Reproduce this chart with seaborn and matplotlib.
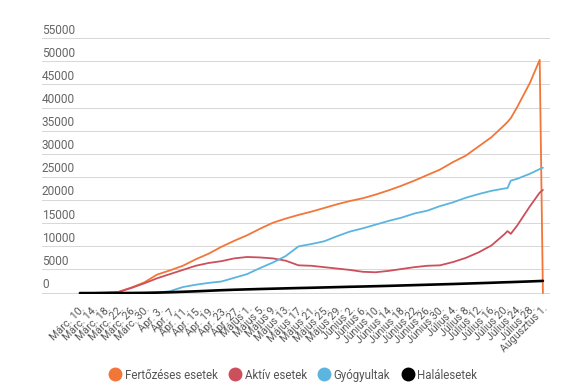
import numpy as np
import pandas as pd
import matplotlib
matplotlib.use("Agg")
import matplotlib.pyplot as plt
from matplotlib.lines import Line2D
import matplotlib.transforms as mtransforms
import seaborn as sns

# ---- data ----
dates = ["2020-03-10", "2020-03-14", "2020-03-18", "2020-03-22", "2020-03-26", "2020-03-30",
         "2020-04-03", "2020-04-07", "2020-04-11", "2020-04-15", "2020-04-19", "2020-04-23",
         "2020-04-27", "2020-05-01", "2020-05-05", "2020-05-09", "2020-05-13", "2020-05-17",
         "2020-05-21", "2020-05-25", "2020-05-29", "2020-06-02", "2020-06-06", "2020-06-10",
         "2020-06-14", "2020-06-18", "2020-06-22", "2020-06-26", "2020-06-30", "2020-07-04",
         "2020-07-08", "2020-07-12", "2020-07-16", "2020-07-20", "2020-07-21", "2020-07-22",
         "2020-07-24", "2020-07-28", "2020-07-31", "2020-08-01"]

fertozeses = [0, 30, 100, 250, 1200, 2300, 4000, 4900, 5900, 7300, 8500, 10000,
              11300, 12500, 13900, 15200, 16100, 16900, 17600, 18400, 19200, 19900,
              20500, 21300, 22200, 23200, 24300, 25500, 26700, 28300, 29700, 31700,
              33700, 36300, 37000, 37800, 40200, 45500, 50400, 0]
aktiv = [0, 30, 100, 250, 1100, 2100, 3200, 4100, 5000, 5900, 6500, 6900,
         7500, 7800, 7700, 7500, 7000, 6000, 5900, 5600, 5300, 5000,
         4600, 4500, 4800, 5200, 5600, 5900, 6000, 6700, 7600, 8800,
         10300, 12700, 13400, 12800, 14600, 18800, 21700, 22300]
gyogyultak = [0, 0, 0, 0, 10, 30, 100, 400, 1300, 1800, 2200, 2500,
              3300, 4100, 5400, 6600, 8000, 10100, 10600, 11200, 12300, 13300,
              14000, 14800, 15600, 16300, 17200, 17800, 18800, 19600, 20600, 21400,
              22100, 22600, 22700, 24300, 24700, 25800, 26800, 27100]
halalesetek = [0, 0, 5, 10, 20, 50, 100, 180, 280, 380, 500, 620,
               720, 800, 880, 950, 1020, 1090, 1150, 1220, 1290, 1360,
               1420, 1490, 1560, 1640, 1720, 1800, 1880, 1960, 2050, 2140,
               2230, 2330, 2350, 2370, 2420, 2520, 2600, 2640]

series_names = ["Fertőzéses esetek", "Aktív esetek", "Gyógyultak", "Halálesetek"]
colors = ["#F27638", "#CC4F5C", "#5BB5DE", "#000000"]

tick_labels = ["Márc. 10.", "Márc. 14.", "Márc. 18.", "Márc. 22.", "Márc. 26.", "Márc. 30.",
               "Ápr. 3.", "Ápr. 7.", "Ápr. 11.", "Ápr. 15.", "Ápr. 19.", "Ápr. 23.", "Ápr. 27.",
               "Május 1.", "Május 5.", "Május 9.", "Május 13.", "Május 17.", "Május 21.",
               "Május 25.", "Május 29.", "Június 2.", "Június 6.", "Június 10.", "Június 14.",
               "Június 18.", "Június 22.", "Június 26.", "Június 30.", "Július 4.", "Július 8.",
               "Július 12.", "Július 16.", "Július 20.", "Július 24.", "Július 28.", "Augusztus 1."]
tick_dates = pd.date_range("2020-03-10", "2020-08-01", freq="4D")
y_ticks = [0, 5000, 10000, 15000, 20000, 25000, 30000, 35000, 40000, 45000, 50000, 55000]

# ---- build frame ----
start = pd.Timestamp(dates[0])
day = [(pd.Timestamp(d) - start).days for d in dates]
frames = []
for name, vals in zip(series_names, [fertozeses, aktiv, gyogyultak, halalesetek]):
    frames.append(pd.DataFrame({"day": day, "value": vals, "series": name}))
df = pd.concat(frames, ignore_index=True)

sns.set_theme(style="white")
plt.rcParams["font.family"] = ["Roboto", "DejaVu Sans"]

fig = plt.figure(figsize=(5.75, 3.87), dpi=100)
ax = fig.add_axes([0.073, 0.2403, 0.8835, 0.6623])

for name, col in zip(series_names, colors):
    sub = df[df["series"] == name]
    sns.lineplot(data=sub, x="day", y="value", ax=ax, color=col,
                 linewidth=1.9 if name == "Halálesetek" else 1.3,
                 legend=False, zorder=3 if name != "Halálesetek" else 4)

ax.set_xlim(-11.8, 146.2)
ax.set_ylim(-200, 55200)
ax.set_xlabel("")
ax.set_ylabel("")
for s in ax.spines.values():
    s.set_visible(False)

# gridlines as thin filled bands (about 1 px tall)
for yv in y_ticks:
    ax.axhspan(yv - 110, yv + 110, color="#d8d8d8", linewidth=0, zorder=1)

ax.set_yticks(y_ticks)
ax.set_yticklabels([str(v) for v in y_ticks])
ax.tick_params(axis="y", length=0, pad=0, labelsize=8.6, labelcolor="#666666")
offset = mtransforms.ScaledTranslation(0, 1.5 / 72, fig.dpi_scale_trans)
for lab in ax.get_yticklabels():
    lab.set_horizontalalignment("left")
    lab.set_verticalalignment("bottom")
    lab.set_transform(lab.get_transform() + offset)

tick_pos = [(d - start).days for d in tick_dates]
ax.set_xticks(tick_pos)
ax.set_xticklabels(tick_labels, rotation=45, ha="right", rotation_mode="anchor")
ax.tick_params(axis="x", length=0, pad=7, labelsize=7.7, labelcolor="#555555")

handles = [Line2D([0], [0], marker="o", linestyle="none", markersize=9,
                  markerfacecolor=c, markeredgecolor=c) for c in colors]
fig.legend(handles, series_names, loc="center", bbox_to_anchor=(0.51, 0.031), ncol=4,
           frameon=False, fontsize=8.3, labelcolor="#555555", handletextpad=0.35,
           columnspacing=1.0, handlelength=1.0)

fig.savefig("out.png", dpi=100)
